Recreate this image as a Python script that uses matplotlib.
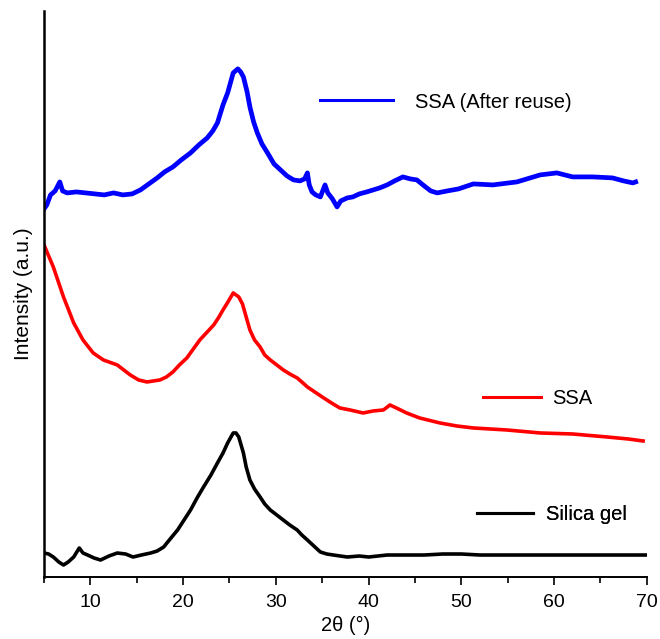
import matplotlib
matplotlib.use("Agg")
import matplotlib.pyplot as plt
from matplotlib.lines import Line2D
from matplotlib.ticker import MultipleLocator

plt.rcParams['font.family'] = ['Liberation Sans', 'DejaVu Sans']

# values (2theta in degrees, intensity in arbitrary units)
reuse_x = [5.0, 5.3, 5.7, 6.2, 6.7, 7.0, 7.5, 8.5, 9.5, 10.5, 11.5, 12.5, 13.5, 14.5,
           15.4, 16.3, 17.2, 18.0, 18.9, 19.8, 20.8, 21.7, 22.6, 23.2, 23.7, 24.3, 24.8,
           25.4, 25.9, 26.2, 26.5, 26.9, 27.2, 27.6, 28.0, 28.5, 29.1, 29.8, 30.5, 31.2,
           31.9, 32.6, 33.1, 33.4, 33.6, 33.9, 34.3, 34.8, 35.3, 35.6, 36.1, 36.6, 37.0,
           37.7, 38.3, 39.0, 39.8, 40.5, 41.2, 42.0, 42.8, 43.7, 44.5, 45.2, 46.0, 46.7,
           47.4, 48.5, 49.7, 51.3, 53.4, 56.0, 58.5, 60.3, 62.0, 64.2, 66.3, 67.5, 68.5, 68.8]
reuse_y = [368, 372, 382, 386, 395, 386, 384, 385, 384, 383, 382, 384, 382, 383,
           387, 393, 399, 405, 410, 417, 424, 432, 439, 446, 454, 472, 484,
           504, 508, 505, 500, 485, 470, 455, 444, 433, 424, 413, 407, 401,
           397, 396, 398, 404, 392, 385, 382, 380, 392, 384, 378, 370, 376,
           379, 380, 383, 385, 387, 389, 392, 396, 400, 398, 397, 391, 386,
           384, 386, 388, 393, 392, 395, 402, 404, 400, 400, 399, 396, 394, 395]

ssa_x = [5.0, 6.0, 7.1, 8.2, 9.2, 10.3, 11.4, 12.9, 14.3, 15.2, 16.1, 16.8, 17.5, 18.2,
         18.9, 19.6, 20.4, 21.1, 21.8, 22.5, 23.3, 23.8, 24.3, 24.9, 25.4, 25.7, 26.0,
         26.4, 26.8, 27.2, 27.7, 28.3, 28.8, 29.4, 30.1, 30.8, 31.5, 32.3, 32.8, 33.4,
         34.2, 35.0, 36.0, 36.9, 38.0, 39.4, 40.5, 41.6, 42.3, 43.0, 44.1, 45.5, 47.7,
         49.5, 51.3, 54.9, 58.5, 62.0, 65.7, 68.0, 69.6]
ssa_y = [332, 310, 280, 254, 237, 224, 217, 212, 202, 197, 195, 196, 197, 200,
         205, 212, 219, 228, 237, 244, 252, 259, 267, 276, 284, 282, 280,
         273, 260, 247, 237, 230, 222, 217, 212, 207, 203, 199, 195, 190,
         185, 180, 174, 169, 167, 164, 166, 167, 172, 169, 164, 159, 154,
         151, 149, 147, 144, 143, 140, 138, 136]

gel_x = [5.0, 5.5, 6.0, 6.6, 7.1, 7.6, 8.2, 8.8, 9.2, 9.7, 10.4, 11.1, 12.0, 12.9,
         13.8, 14.6, 15.5, 16.5, 17.2, 17.9, 18.6, 19.4, 20.1, 20.8, 21.5, 22.2, 23.0,
         23.7, 24.3, 24.8, 25.4, 25.7, 26.0, 26.5, 26.8, 27.2, 27.7, 28.3, 28.8, 29.4,
         30.1, 30.8, 31.5, 32.3, 32.8, 33.4, 34.1, 34.8, 35.5, 36.2, 37.7, 39.0, 40.0,
         41.0, 42.0, 44.0, 46.0, 48.0, 50.0, 52.0, 54.0, 56.0, 58.0, 60.0, 62.0, 64.0,
         66.0, 68.0, 70.0]
gel_y = [24, 23, 20, 15, 12, 15, 20, 29, 24, 22, 19, 17, 21, 24,
         23, 20, 22, 24, 26, 30, 38, 47, 57, 67, 79, 90, 102,
         114, 124, 134, 144, 144, 140, 124, 110, 97, 88, 80, 73, 67,
         62, 57, 52, 47, 42, 37, 31, 25, 23, 22, 20, 21, 20,
         21, 22, 22, 22, 23, 23, 22, 22, 22, 22, 22, 22, 22,
         22, 22, 22]

fig = plt.figure(figsize=(6.6, 6.39), dpi=100)
ax = fig.add_axes([0.0667, 0.097, 0.9133, 0.886])

ax.plot(reuse_x, reuse_y, color="#0000ff", lw=3.4)
ax.plot(ssa_x, ssa_y, color="#ff0000", lw=2.6)
ax.plot(gel_x, gel_y, color="black", lw=2.6)

ax.set_xlim(5, 70)
ax.set_ylim(0, 566)
ax.spines['top'].set_visible(False)
ax.spines['right'].set_visible(False)
ax.spines['left'].set_linewidth(1.8)
ax.spines['bottom'].set_linewidth(1.4)
ax.set_yticks([])
ax.xaxis.set_major_locator(MultipleLocator(10))
ax.xaxis.set_minor_locator(MultipleLocator(5))
ax.tick_params(axis='x', which='major', length=6, width=1.2, labelsize=14, pad=6)
ax.tick_params(axis='x', which='minor', length=4, width=1.2)

ax.set_xlabel("2θ (°)", fontsize=14.5, labelpad=4)
ax.set_ylabel("Intensity (a.u.)", fontsize=15, labelpad=8)

labels = [("SSA (After reuse)", "#0000ff", (0.458, 0.839), 3.6, 1.1),
          ("SSA", "#ff0000", (0.728, 0.316), 2.9, 0.55),
          ("Silica gel", "black", (0.718, 0.111), 2.8, 0.65)]
for text, col, anchor, hl, pad in labels:
    leg = ax.legend([Line2D([], [], color=col, lw=2.2)], [text], loc="center left",
                    bbox_to_anchor=anchor, frameon=False, fontsize=14.5,
                    handlelength=hl, handletextpad=pad, borderpad=0, borderaxespad=0)
    ax.add_artist(leg)

plt.savefig("out.png", dpi=100)
